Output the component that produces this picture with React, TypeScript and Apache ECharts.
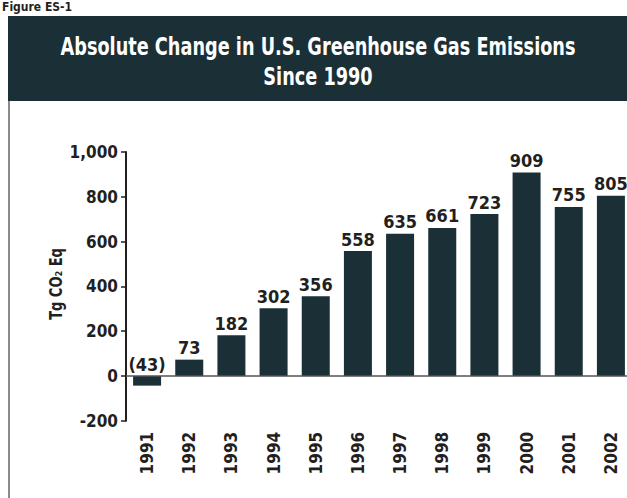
import React, { useEffect, useRef } from "react";
import * as echarts from "echarts";

const years = ["1991","1992","1993","1994","1995","1996","1997","1998","1999","2000","2001","2002"];
const changes = [-43, 73, 182, 302, 356, 558, 635, 661, 723, 909, 755, 805];
const yTicks = [-200, 0, 200, 400, 600, 800, 1000];

const FONT = '"DejaVu Sans Condensed", "Liberation Sans Narrow", Arial, sans-serif';
const DARK = "#1a3036";
const INK = "#231f20";

export default function App() {
  const ref = useRef<HTMLDivElement>(null);
  useEffect(() => {
    if (!ref.current) return;
    const chart = echarts.init(ref.current, null, { renderer: "svg" });
    chart.setOption({
      animation: false,
      backgroundColor: "#ffffff",
      graphic: [
        { type: "text", x: 2, y: 1, style: { text: "Figure ES-1", font: `bold 12px ${FONT}`, fill: INK } },
        { type: "rect", shape: { x: 8, y: 16, width: 650, height: 85 }, style: { fill: DARK } },
        {
          type: "text", x: 318, y: 62, scaleX: 0.82,
          style: {
            text: "Absolute Change in U.S. Greenhouse Gas Emissions\nSince 1990",
            font: `bold 24px ${FONT}`, fill: "#ffffff", align: "center", verticalAlign: "middle", lineHeight: 30,
          },
        },
        { type: "line", shape: { x1: 9, y1: 101, x2: 9, y2: 498 }, style: { stroke: "#8a8a8a", lineWidth: 2 } },
        {
          type: "text", x: 56, y: 284, rotation: Math.PI / 2, scaleX: 0.85,
          style: { text: "Tg CO₂ Eq", font: `bold 17px ${FONT}`, fill: INK, align: "center", verticalAlign: "middle" },
        },
      ],
      grid: { left: 126, top: 152, width: 506, height: 268.8, containLabel: false },
      xAxis: {
        type: "category",
        data: years,
        axisLine: { show: false, onZero: false },
        axisTick: { show: false },
        axisLabel: { rotate: 90, margin: 11, fontFamily: FONT, fontWeight: "bold", fontSize: 17, color: INK, interval: 0 },
      },
      yAxis: {
        type: "value",
        min: -200, max: 1000, interval: 200,
        axisLine: { show: true, lineStyle: { color: INK, width: 2 } },
        axisTick: { show: true, length: 5, lineStyle: { color: INK, width: 1.5 } },
        splitLine: { show: false },
        axisLabel: {
          fontFamily: FONT, fontWeight: "bold", fontSize: 17, color: INK, margin: 8,
          formatter: (v: number) => (yTicks.includes(v) ? v.toLocaleString("en-US") : ""),
        },
      },
      series: [
        {
          type: "bar",
          data: changes,
          barWidth: 28,
          itemStyle: { color: DARK },
          label: {
            show: true, position: "top", distance: 3,
            fontFamily: FONT, fontWeight: "bold", fontSize: 18, color: INK,
            formatter: (p: any) => (p.value < 0 ? `(${Math.abs(p.value)})` : `${p.value}`),
          },
          markLine: {
            silent: true, symbol: "none", label: { show: false },
            lineStyle: { color: "#555555", width: 1.5, type: "solid" },
            data: [{ yAxis: 0 }],
          },
        },
      ],
    });
    return () => chart.dispose();
  }, []);
  return (
    <div style={{ position: "absolute", left: 0, top: 0, width: 627, height: 498, overflow: "hidden" }}>
      <div ref={ref} style={{ position: "absolute", left: 0, top: 0, width: 650, height: 498 }} />
    </div>
  );
}
